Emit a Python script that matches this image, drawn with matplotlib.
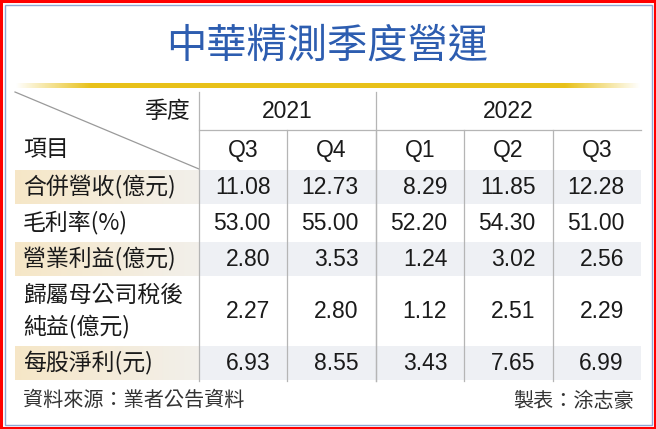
import numpy as np
import matplotlib
matplotlib.use("Agg")
import matplotlib.pyplot as plt
from matplotlib.patches import Rectangle
from matplotlib import font_manager

plt.rcParams['font.family'] = ['Noto Sans CJK TC', 'DejaVu Sans']

title = '中華精測季度營運'
years = ['2021', '2022']
year_span = [2, 3]
quarters = ['Q3', 'Q4', 'Q1', 'Q2', 'Q3']
items = ['合併營收(億元)', '毛利率(%)', '營業利益(億元)', '歸屬母公司稅後\n純益(億元)', '每股淨利(元)']
revenue = [11.08, 12.73, 8.29, 11.85, 12.28]
gross_margin = [53.00, 55.00, 52.20, 54.30, 51.00]
op_income = [2.80, 3.53, 1.24, 3.02, 2.56]
net_income = [2.27, 2.80, 1.12, 2.51, 2.29]
eps = [6.93, 8.55, 3.43, 7.65, 6.99]
values = [revenue, gross_margin, op_income, net_income, eps]
source = '資料來源：業者公告資料'
maker = '製表：涂志豪'

installed = {f.name for f in font_manager.fontManager.ttflist}
if 'Liberation Sans Narrow' in installed:
    num_font = ['Liberation Sans Narrow', 'DejaVu Sans']
    num_size = 18.5
else:
    num_font = ['Liberation Sans', 'DejaVu Sans']
    num_size = 16.5

W, H = 656, 429
fig = plt.figure(figsize=(W / 100, H / 100), dpi=100)
ax = fig.add_axes([0, 0, 1, 1])
ax.set_xlim(0, W)
ax.set_ylim(H, 0)
ax.axis('off')

# frames
ax.add_patch(Rectangle((1.2, 1.2), W - 2.4, H - 2.4, fill=False, ec='#ff0000', lw=2.2))
ax.add_patch(Rectangle((4.5, 4.5), W - 9, H - 9, fill=False, ec='#8ea6d2', lw=1.0))

ax.text(W / 2 - 1, 46, title, ha='center', va='center', fontsize=29, color='#2d5db0')

# gold rule with faded ends
x0, x1 = 15, 641
n = 300
t = np.linspace(0, 1, n)
alpha = np.clip(np.minimum(t, 1 - t) / 0.12, 0, 1)
gold = np.zeros((1, n, 4))
gold[..., 0], gold[..., 1], gold[..., 2] = 0.91, 0.76, 0.10
gold[0, :, 3] = alpha
ax.imshow(gold, extent=(x0, x1, 88.5, 84), aspect='auto', interpolation='bilinear', zorder=2)

# table geometry
lab_l, lab_r = 15, 199
col_w = (x1 - lab_r) / len(quarters)
col_edges = [lab_r + i * col_w for i in range(len(quarters) + 1)]
h_top, h_mid, h_bot = 92, 130, 169
row_h = [36, 36, 36, 68, 36]
row_edges = [h_bot]
for rh in row_h:
    row_edges.append(row_edges[-1] + rh)

cjk_col = '#1a1a1a'

# shading
lab_grad = np.zeros((1, 100, 3))
c_l = np.array([0.965, 0.905, 0.780])
c_r = np.array([0.950, 0.940, 0.920])
for i in range(100):
    lab_grad[0, i] = c_l + (c_r - c_l) * i / 99
for r in range(len(items)):
    if r % 2 == 0:
        y0, y1 = row_edges[r] + 1, row_edges[r + 1] - 1
        ax.imshow(lab_grad, extent=(lab_l, lab_r, y1, y0), aspect='auto', interpolation='bilinear', zorder=1)
        ax.add_patch(Rectangle((lab_r, y0), x1 - lab_r, y1 - y0, fc='#eef0f4', ec='none', zorder=1))

# lines
ax.plot([lab_l, lab_r], [h_top, h_bot], color='#9a9a9a', lw=0.9, zorder=3)
ax.plot([lab_r, x1], [h_mid, h_mid], color='#b5b5b5', lw=0.9, zorder=3)
ax.plot([col_edges[0]] * 2, [h_top, row_edges[-1]], color='#b5b5b5', lw=0.9, zorder=3)
k = 0
for span in year_span[:-1]:
    k += span
    ax.plot([col_edges[k]] * 2, [h_top, row_edges[-1]], color='#b5b5b5', lw=0.9, zorder=3)
for i in range(1, len(quarters)):
    ax.plot([col_edges[i]] * 2, [h_mid, row_edges[-1]], color='#b5b5b5', lw=0.9, zorder=3)

# header text
ax.text(lab_r - 9, (h_top + h_mid) / 2 + 1, '季度', ha='right', va='center', fontsize=16.5, color=cjk_col, zorder=4)
ax.text(lab_l + 8, (h_mid + h_bot) / 2, '項目', ha='left', va='center', fontsize=16.5, color=cjk_col, zorder=4)
k = 0
for yr, span in zip(years, year_span):
    cx = (col_edges[k] + col_edges[k + span]) / 2
    ax.text(cx, (h_top + h_mid) / 2 + 1, yr, ha='center', va='center', fontsize=num_size, family=num_font,
            color=cjk_col, zorder=4)
    k += span
for i, q in enumerate(quarters):
    cx = (col_edges[i] + col_edges[i + 1]) / 2
    ax.text(cx, (h_mid + h_bot) / 2 + 1, q, ha='center', va='center', fontsize=num_size, family=num_font,
            color=cjk_col, zorder=4)

# body
for r, (item, vals) in enumerate(zip(items, values)):
    cy = (row_edges[r] + row_edges[r + 1]) / 2
    ax.text(lab_l + 8, cy, item, ha='left', va='center', fontsize=16.5, color=cjk_col, linespacing=1.4, zorder=4)
    for i, v in enumerate(vals):
        ax.text(col_edges[i + 1] - 17, cy + 1, f'{v:.2f}', ha='right', va='center', fontsize=num_size,
                family=num_font, color=cjk_col, zorder=4)

# footer
ax.text(lab_l + 8, 401, source, ha='left', va='center', fontsize=14.5, color='#333333')
ax.text(x1 - 7, 401, maker, ha='right', va='center', fontsize=14.5, color='#333333')

fig.savefig('out.png', dpi=100)
